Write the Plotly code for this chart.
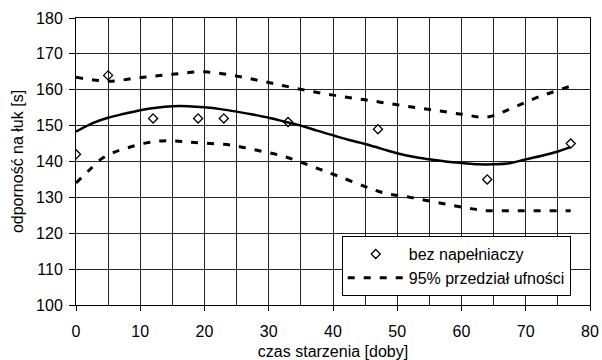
import plotly.graph_objects as go

# measured points
pts_x = [0, 5, 12, 19, 23, 33, 47, 64, 77]
pts_y = [142, 164, 152, 152, 152, 151, 149, 135, 145]

# fitted curve
fit_x = [0, 1, 3, 5, 7.5, 10, 12.5, 15, 17.5, 20, 22.5, 25, 27.5, 30, 32.5, 35, 37.5, 40, 42.5, 45, 47.5, 50, 52.5, 55, 57.5, 60, 62.5, 65, 67.5, 70, 72.5, 75, 77]
fit_y = [148.3, 149.3, 151.0, 152.2, 153.3, 154.3, 155.0, 155.4, 155.4, 155.1, 154.6, 153.9, 153.1, 152.2, 151.1, 150.0, 148.6, 147.3, 146.0, 144.9, 143.6, 142.3, 141.3, 140.6, 140.0, 139.6, 139.2, 139.2, 139.5, 140.6, 141.6, 142.8, 144.0]

# 95% confidence limits
up_x = [0, 5, 10, 15, 20, 25, 30, 35, 40, 45, 50, 55, 60, 64, 68, 72, 77]
up_y = [163.5, 162.4, 163.4, 164.3, 165.0, 163.8, 162.0, 160.1, 158.5, 157.2, 155.8, 154.5, 153.2, 152.4, 155.0, 158.0, 161.0]
lo_x = [0, 2, 4, 6, 8, 11, 14, 17, 20, 24, 28, 32, 35, 38, 41, 45, 48, 52, 57, 61, 64, 68, 72, 77]
lo_y = [134.0, 137.5, 140.8, 142.6, 143.8, 145.2, 145.8, 145.5, 145.1, 144.6, 143.2, 141.6, 139.8, 137.8, 135.8, 133.0, 131.2, 130.0, 128.3, 127.0, 126.3, 126.3, 126.3, 126.3]

x_ticks = [0, 10, 20, 30, 40, 50, 60, 70, 80]
y_ticks = [100, 110, 120, 130, 140, 150, 160, 170, 180]

dash_style = "7px,9px"
fig = go.Figure()
fig.add_trace(go.Scatter(x=fit_x, y=fit_y, mode="lines", line=dict(color="black", width=2.5, shape="spline"), showlegend=False))
fig.add_trace(go.Scatter(x=up_x, y=up_y, mode="lines", line=dict(color="black", width=3, dash=dash_style, shape="spline"), showlegend=False))
fig.add_trace(go.Scatter(x=pts_x, y=pts_y, mode="markers", name="bez napełniaczy",
                         marker=dict(symbol="diamond-open", size=7, color="black", line=dict(width=1.3))))
fig.add_trace(go.Scatter(x=lo_x, y=lo_y, mode="lines", name="95% przedział ufności",
                         line=dict(color="black", width=3, dash=dash_style, shape="spline")))

font = "Liberation Sans, Arial, sans-serif"
fig.update_layout(
    width=602, height=360,
    margin=dict(l=76, r=12, t=18, b=55),
    plot_bgcolor="white", paper_bgcolor="white",
    font=dict(family=font, size=16, color="black"),
    legend=dict(x=0.517, y=0.24, xanchor="left", yanchor="top",
                bordercolor="black", borderwidth=1, bgcolor="white",
                font=dict(size=16), itemwidth=56, tracegroupgap=0),
    xaxis=dict(range=[0, 80], tickvals=x_ticks, ticks="outside", ticklen=5, tickcolor="black",
               ticklabelstandoff=7, automargin=False,
               showgrid=True, gridcolor="#222", gridwidth=1,
               minor=dict(dtick=5, showgrid=True, gridcolor="#222", gridwidth=1),
               showline=True, linecolor="black", linewidth=1, mirror=True, zeroline=False,
               title=dict(text="czas starzenia [doby]", font=dict(size=16), standoff=6)),
    yaxis=dict(range=[100, 180], tickvals=y_ticks, ticks="outside", ticklen=6, tickcolor="black",
               ticklabelstandoff=3, automargin=False,
               showgrid=True, gridcolor="#222", gridwidth=1,
               showline=True, linecolor="black", linewidth=1, mirror=True, zeroline=False,
               title=dict(text="odporność na łuk [s]", font=dict(size=16), standoff=8)),
)
fig.write_html("out.html")
